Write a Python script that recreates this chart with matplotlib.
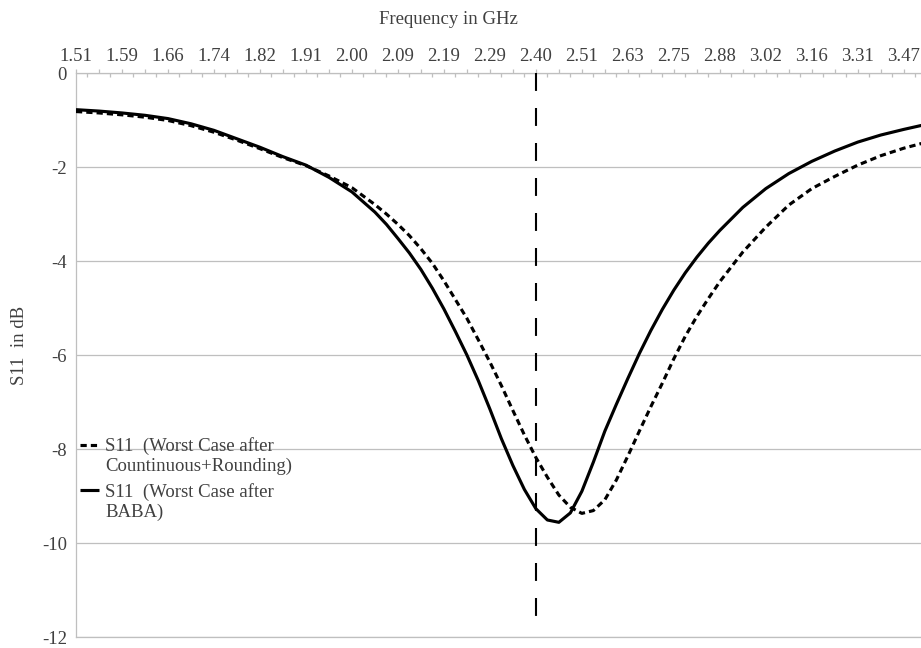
import numpy as np
import matplotlib
matplotlib.use("Agg")
import matplotlib.pyplot as plt
from matplotlib.lines import Line2D
from matplotlib.legend_handler import HandlerLine2D

plt.rcParams['font.family'] = ['Liberation Serif', 'DejaVu Serif']
plt.rcParams['axes.unicode_minus'] = False

# Sweep point labels (every 4th sweep point is labelled)
freq_labels = ['1.51', '1.59', '1.66', '1.74', '1.82', '1.91', '2.00', '2.09',
               '2.19', '2.29', '2.40', '2.51', '2.63', '2.75', '2.88', '3.02',
               '3.16', '3.31', '3.47']
label_every = 4
n_points_shown = 73.5

# Sweep point index of each sample
sample_no = [0, 2, 4, 6, 8, 10, 12, 14, 16, 18, 20, 22, 24, 26,
             27, 28, 29, 30, 31, 32, 33, 34, 35, 36, 37, 38, 39, 40,
             41, 42, 43, 44, 45, 46, 47, 48, 49, 50, 51, 52, 53, 54, 55,
             56, 58, 60, 62, 64, 66, 68, 70, 72, 74]

s11_rounding = [-0.82, -0.85, -0.89, -0.94, -1.01, -1.12, -1.26, -1.43, -1.61,
                -1.80, -1.97, -2.19, -2.44, -2.80,
                -3.00, -3.22, -3.46, -3.74, -4.05, -4.42, -4.82, -5.22, -5.68,
                -6.15, -6.65, -7.18, -7.70, -8.18,
                -8.60, -8.98, -9.24, -9.37, -9.31, -9.08, -8.66, -8.15, -7.62,
                -7.10, -6.60, -6.08, -5.60, -5.18, -4.80,
                -4.44, -3.81, -3.28, -2.81, -2.46, -2.20, -1.96, -1.76, -1.60,
                -1.47]

s11_baba = [-0.78, -0.81, -0.85, -0.90, -0.97, -1.08, -1.22, -1.40, -1.58,
            -1.78, -1.96, -2.22, -2.53, -2.96,
            -3.22, -3.52, -3.83, -4.18, -4.58, -5.02, -5.50, -6.00, -6.55,
            -7.15, -7.78, -8.35, -8.86, -9.27,
            -9.51, -9.56, -9.36, -8.90, -8.28, -7.62, -7.05, -6.50, -5.97,
            -5.48, -5.03, -4.62, -4.25, -3.92, -3.62,
            -3.35, -2.86, -2.46, -2.14, -1.88, -1.66, -1.47, -1.32, -1.20,
            -1.09]

# 2.40 GHz marker
marker_sample = 40
marker_top, marker_bottom = 0.0, -11.6

y_ticks = [0, -2, -4, -6, -8, -10, -12]

text_color = '#404040'
grid_color = '#bfbfbf'
fs = 13.5

fig = plt.figure(figsize=(9.21, 6.48), dpi=100)
ax = fig.add_axes([76 / 921, 11 / 648, 1 - 76 / 921, 564 / 648])

ax.set_xlim(0, n_points_shown)
ax.set_ylim(-12, 0)

# Series
l_round, = ax.plot(sample_no, s11_rounding, color='black', lw=2.25,
                   dashes=(2.0, 1.3), dash_capstyle='butt',
                   solid_joinstyle='round', zorder=3)
l_baba, = ax.plot(sample_no, s11_baba, color='black', lw=2.25,
                  solid_capstyle='butt', solid_joinstyle='round', zorder=4)

# Vertical marker at 2.40 GHz
ax.plot([marker_sample, marker_sample], [marker_top, marker_bottom],
        color='black', lw=1.5, dashes=(8.6, 8.2), dash_capstyle='butt',
        zorder=5, clip_on=False)

# Horizontal gridlines
ax.set_yticks(y_ticks)
ax.set_yticklabels([str(v) for v in y_ticks])
ax.yaxis.grid(True, color=grid_color, lw=0.9)
ax.set_axisbelow(True)
ax.tick_params(axis='y', length=0, pad=6.5, labelsize=fs, labelcolor=text_color)

# Category axis on top: alternating outer/inner tick marks
ax.xaxis.tick_top()
n_cat = (len(freq_labels) - 1) * label_every
major_pos = np.arange(0, n_cat + 1, 2)
minor_pos = np.arange(1, n_cat + 2, 2)
ax.set_xticks(major_pos)
ax.set_xticklabels([freq_labels[p // label_every] if p % label_every == 0 else ''
                    for p in major_pos])
ax.set_xticks(minor_pos, minor=True)
ax.tick_params(axis='x', which='major', direction='out', length=3, width=0.9,
               color=grid_color, pad=2.5, labelsize=fs, labelcolor=text_color)
ax.tick_params(axis='x', which='minor', direction='in', length=3, width=0.9,
               color=grid_color)

for side in ('top', 'left', 'bottom'):
    ax.spines[side].set_color(grid_color)
    ax.spines[side].set_linewidth(0.9)
ax.spines['right'].set_visible(False)

fig.text(448 / 921, 1 - 20 / 648, 'Frequency in GHz', ha='center', va='center',
         fontsize=fs, color=text_color)
fig.text(19 / 921, 1 - 345 / 648, 'S11  in dB', rotation=90, ha='center',
         va='center', fontsize=fs, color=text_color)


class FirstLineHandler(HandlerLine2D):
    """Legend key aligned with the first line of a two-line label."""

    def create_artists(self, legend, orig_handle, xdescent, ydescent, width,
                       height, fontsize, trans):
        artists = super().create_artists(legend, orig_handle, xdescent,
                                         ydescent, width, height, fontsize,
                                         trans)
        for a in artists:
            a.set_ydata(np.asarray(a.get_ydata()) + 0.6 * fontsize)
        return artists


leg = ax.legend(handles=[l_round, l_baba],
                labels=['S11  (Worst Case after\nCountinuous+Rounding)',
                        'S11  (Worst Case after\nBABA)'],
                loc='upper left', bbox_to_anchor=(4 / 845, (637 - 437) / 564),
                frameon=False, borderpad=0, borderaxespad=0,
                handlelength=1.0, handletextpad=0.35, labelspacing=0.42,
                fontsize=fs, labelcolor=text_color,
                handler_map={Line2D: FirstLineHandler()})
for t in leg.get_texts():
    t.set_linespacing(1.2)

fig.savefig('out.png', dpi=100)
